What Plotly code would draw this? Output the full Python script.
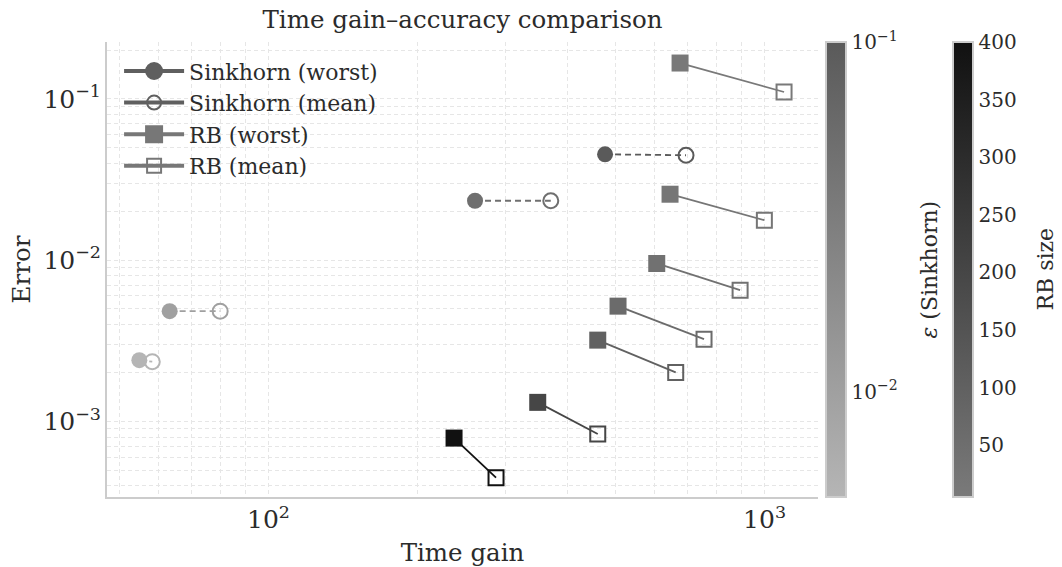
import numpy as np
import plotly.graph_objects as go
from plotly.colors import sample_colorscale

# ---------------- data ----------------
sk_eps = [0.1, 0.05, 0.01, 0.005]
sk_worst_gain = [476.9, 260.8, 63.2, 54.9]
sk_worst_err = [0.0453, 0.02335, 0.00483, 0.0024]
sk_mean_gain = [694.5, 370.7, 79.9, 58.3]
sk_mean_err = [0.0447, 0.02335, 0.00483, 0.00235]

rb_size = [10, 20, 40, 60, 100, 200, 400]
rb_worst_gain = [675.5, 644.8, 606.2, 506.5, 461.0, 348.9, 236.6]
rb_worst_err = [0.1666, 0.02563, 0.00954, 0.00519, 0.003196, 0.001315, 0.00079]
rb_mean_gain = [1094.6, 999.0, 892.6, 755.0, 662.0, 461.0, 287.5]
rb_mean_err = [0.1102, 0.01769, 0.00652, 0.00324, 0.002016, 0.000837, 0.000449]

legend_names = ["Sinkhorn (worst)", "Sinkhorn (mean)", "RB (worst)", "RB (mean)"]
cbar_titles = ["<i>\u03b5</i> (Sinkhorn)", "RB size"]

# ---------------- styling ----------------
FONT = "DejaVu Serif"
TXT = "#2b2b2b"
GRID = "#e6e6e6"
SPINE = "#cccccc"
SK_SCALE = [[0, "#b5b5b5"], [1, "#5a5a5a"]]
RB_SCALE = [[0, "#7a7a7a"], [1, "#111111"]]
SK_CMIN, SK_CMAX = np.log10(0.005), np.log10(0.1)
RB_CMIN, RB_CMAX = 5, 400

sk_logeps = list(np.log10(sk_eps))
sk_cols = sample_colorscale(SK_SCALE, [(v - SK_CMIN) / (SK_CMAX - SK_CMIN) for v in sk_logeps])
rb_cols = sample_colorscale(RB_SCALE, [(v - RB_CMIN) / (RB_CMAX - RB_CMIN) for v in rb_size])

fig = go.Figure()

# connectors
for i in range(len(sk_eps)):
    fig.add_trace(go.Scatter(
        x=[sk_worst_gain[i], sk_mean_gain[i]], y=[sk_worst_err[i], sk_mean_err[i]],
        mode="lines", line=dict(color=sk_cols[i], width=1.8, dash="6px,4px"),
        showlegend=False, hoverinfo="skip"))
for i in range(len(rb_size)):
    fig.add_trace(go.Scatter(
        x=[rb_worst_gain[i], rb_mean_gain[i]], y=[rb_worst_err[i], rb_mean_err[i]],
        mode="lines", line=dict(color=rb_cols[i], width=1.8),
        showlegend=False, hoverinfo="skip"))

cb_common = dict(
    thickness=20, len=1.0, lenmode="fraction", y=0.5, yanchor="middle", ypad=0, xpad=0,
    xanchor="left", outlinecolor=SPINE, outlinewidth=2, ticks="",
    tickfont=dict(family=FONT, size=20, color=TXT),
)

# Sinkhorn markers
fig.add_trace(go.Scatter(
    x=sk_worst_gain, y=sk_worst_err, mode="markers", showlegend=False,
    marker=dict(symbol="circle", size=16, color=sk_logeps, colorscale=SK_SCALE,
                cmin=SK_CMIN, cmax=SK_CMAX, line=dict(width=0),
                colorbar=dict(x=1.0113, tickvals=[-2, -1],
                              ticktext=["10<sup>\u22122</sup>", "10<sup>\u22121</sup>"],
                              **cb_common))))
fig.add_trace(go.Scatter(
    x=sk_mean_gain, y=sk_mean_err, mode="markers", showlegend=False,
    marker=dict(symbol="circle-open", size=15, color=sk_logeps, colorscale=SK_SCALE,
                cmin=SK_CMIN, cmax=SK_CMAX, line=dict(width=2))))

# RB markers
fig.add_trace(go.Scatter(
    x=rb_worst_gain, y=rb_worst_err, mode="markers", showlegend=False,
    marker=dict(symbol="square", size=17, color=rb_size, colorscale=RB_SCALE,
                cmin=RB_CMIN, cmax=RB_CMAX, line=dict(width=0),
                colorbar=dict(x=1.1899, tickvals=[50, 100, 150, 200, 250, 300, 350, 400],
                              **cb_common))))
fig.add_trace(go.Scatter(
    x=rb_mean_gain, y=rb_mean_err, mode="markers", showlegend=False,
    marker=dict(symbol="square-open", size=15, color=rb_size, colorscale=RB_SCALE,
                cmin=RB_CMIN, cmax=RB_CMAX, line=dict(width=2))))

# legend proxies
leg_specs = [("circle", "#5f5f5f", 16), ("circle-open", "#5f5f5f", 14),
             ("square", "#777777", 16), ("square-open", "#777777", 14)]
for name, (sym, col, sz) in zip(legend_names, leg_specs):
    fig.add_trace(go.Scatter(
        x=[None], y=[None], mode="lines+markers", name=name, legendgroup=name,
        line=dict(color=col, width=4),
        marker=dict(symbol=sym, size=sz, color=col, line=dict(width=2, color=col))))

# colorbar titles
for txt, xp in zip(cbar_titles, [1.1575, 1.3193]):
    fig.add_annotation(text=txt, xref="paper", yref="paper", x=xp, y=0.5,
                       xanchor="center", yanchor="middle", textangle=-90, showarrow=False,
                       font=dict(family=FONT, size=22, color=TXT))

axis_common = dict(
    type="log", showline=True, linecolor=SPINE, linewidth=2, mirror=False,
    ticks="", showgrid=True, gridcolor=GRID, gridwidth=1, griddash="4px,3px",
    zeroline=False, exponentformat="power", dtick=1,
    tickfont=dict(family=FONT, size=20, color=TXT),
    minor=dict(showgrid=True, gridcolor=GRID, gridwidth=1, griddash="4px,3px", dtick="D1"),
)

fig.update_layout(
    width=1062, height=567,
    margin=dict(l=107, r=244, t=42, b=70, autoexpand=False),
    paper_bgcolor="white", plot_bgcolor="white",
    font=dict(family=FONT, color=TXT),
    title=dict(text="Time gain\u2013accuracy comparison", x=0.4355, xanchor="center",
               y=0.966, yanchor="middle", font=dict(family=FONT, size=24.5, color=TXT)),
    xaxis=dict(range=[1.6744, 3.1077],
               title=dict(text="Time gain", font=dict(family=FONT, size=24.5, color=TXT), standoff=13),
               **axis_common),
    yaxis=dict(range=[-3.4675, -0.648],
               title=dict(text="Error", font=dict(family=FONT, size=24.5, color=TXT), standoff=6),
               **axis_common),
    legend=dict(x=0.017, y=0.982, xanchor="left", yanchor="top", bgcolor="rgba(255,255,255,0)",
                font=dict(family=FONT, size=22, color=TXT), itemwidth=60,
                tracegroupgap=0),
)

fig.write_html("out.html")
